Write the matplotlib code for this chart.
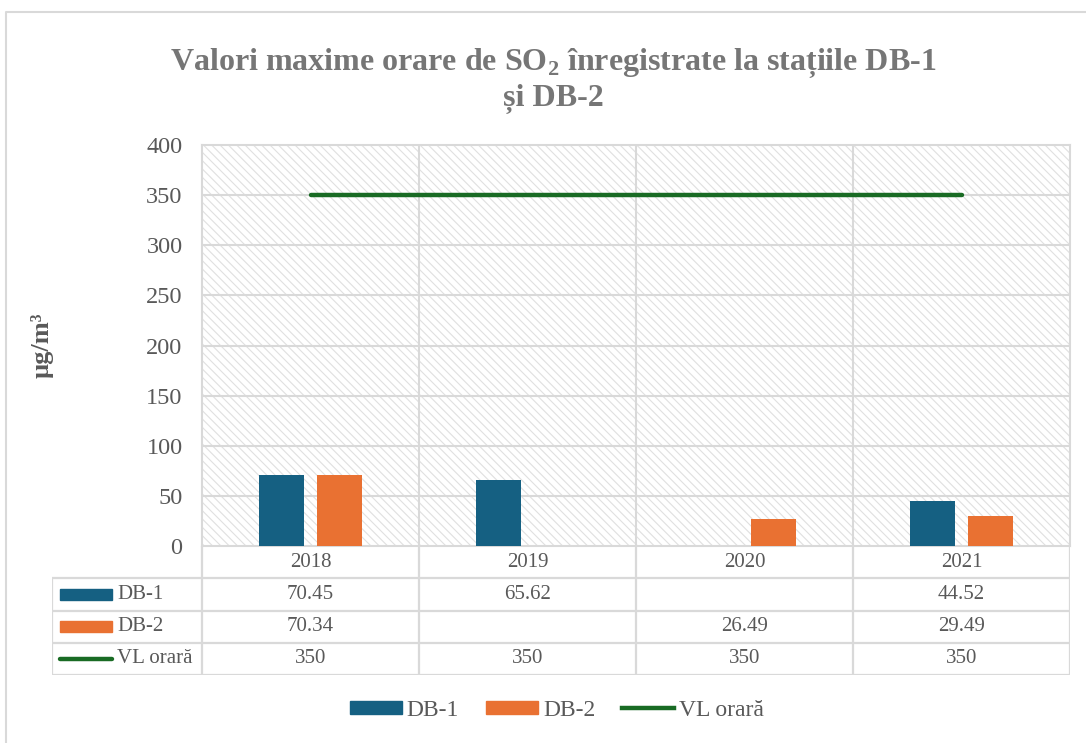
import numpy as np
import matplotlib
matplotlib.use("Agg")
import matplotlib.pyplot as plt
from matplotlib.patches import Rectangle, Patch
from matplotlib.lines import Line2D

# ---- data ----
years = ["2018", "2019", "2020", "2021"]
db1 = [70.45, 65.62, np.nan, 44.52]
db2 = [70.34, np.nan, 26.49, 29.49]
vl = [350, 350, 350, 350]
series_names = ["DB-1", "DB-2", "VL orară"]
yticks = [0, 50, 100, 150, 200, 250, 300, 350, 400]

C1 = "#156082"
C2 = "#E97132"
CG = "#196B24"
GRID = "#d9d9d9"
TXT = "#595959"

plt.rcParams["font.family"] = ["Liberation Serif", "DejaVu Serif"]
plt.rcParams["mathtext.fontset"] = "custom"
plt.rcParams["mathtext.rm"] = "Liberation Serif:bold"
plt.rcParams["mathtext.bf"] = "Liberation Serif:bold"
plt.rcParams["hatch.color"] = "#e0e0e0"
plt.rcParams["hatch.linewidth"] = 0.8

W, H = 1086, 743
fig = plt.figure(figsize=(W / 100, H / 100), dpi=100)
fig.patch.set_facecolor("white")

# overlay for outer border
ov = fig.add_axes([0, 0, 1, 1], zorder=-5)
ov.set_xlim(0, W)
ov.set_ylim(H, 0)
ov.axis("off")
ov.plot([6, 6, W + 5], [H + 5, 12, 12], color=GRID, lw=1.5)

# main axes
L, R, T, B = 202, 1070, 145, 546
ax = fig.add_axes([L / W, 1 - B / H, (R - L) / W, (B - T) / H])
x = np.arange(len(years))
ax.set_xlim(-0.5, len(years) - 0.5)
ax.set_ylim(0, 400)
ax.add_patch(Rectangle((0, 0), 1, 1, transform=ax.transAxes, facecolor="white",
                       hatch="\\\\\\\\", edgecolor="#e0e0e0", lw=0, zorder=0))
bw = 0.21
off = 0.134
ax.bar(x - off, db1, bw, color=C1, zorder=3)
ax.bar(x + off, db2, bw, color=C2, zorder=3)
ax.plot(x, vl, color=CG, lw=3.2, solid_capstyle="round", zorder=4)
ax.set_yticks(yticks)
ax.set_yticklabels([str(v) for v in yticks], fontsize=17.5, color=TXT)
ax.tick_params(axis="y", length=0, pad=14)
ax.set_xticks([])
for yv in yticks[1:-1]:
    ax.axhline(yv, color=GRID, lw=1.5, zorder=1)
for xv in x[:-1] + 0.5:
    ax.axvline(xv, color=GRID, lw=1.5, zorder=1)
for s in ax.spines.values():
    s.set_color(GRID)
    s.set_linewidth(1.5)
ax.set_ylabel("µg/m³", fontsize=19, fontweight="bold", color=TXT, labelpad=0)
ax.yaxis.set_label_coords(-(L - 42) / (R - L), (B - 345) / (B - T))
ax.yaxis.label.set_va("center")

# title
fig.text(553 / W, 1 - 80 / H,
         "Valori maxime orare de SO$_2$ înregistrate la stațiile DB-1\nși DB-2",
         ha="center", va="center", fontsize=23, fontweight="bold",
         color="#767676", linespacing=1.15)

# data table
TL = 52
ppu = (R - L) / len(years)
tx0 = -0.5 - (L - TL) / ppu
at = fig.add_axes([TL / W, 1 - 675 / H, (R - TL) / W, (675 - B) / H])
at.set_xlim(tx0, len(years) - 0.5)
at.set_ylim(4, 0)
at.axis("off")
lk = dict(color=GRID, lw=1.6, solid_capstyle="butt")
for xv in np.arange(len(years) + 1) - 0.5:
    at.plot([xv, xv], [0, 4], **lk)
at.plot([tx0, tx0], [1, 4], **lk)
for yv in [1, 2, 3, 4]:
    at.plot([tx0, len(years) - 0.5], [yv, yv], **lk)
for i, yr in enumerate(years):
    at.text(i, 0.5, yr, ha="center", va="center", fontsize=15, color=TXT)
rows = [db1, db2, vl]
for r, vals in enumerate(rows):
    for i, v in enumerate(vals):
        if not np.isnan(v):
            at.text(i, r + 1.5, f"{v:g}", ha="center", va="center", fontsize=15, color=TXT)
# row header keys
kx0 = tx0 + 8 / ppu
kw = 52 / ppu
at.add_patch(Rectangle((kx0, 1.5 - 0.16), kw, 0.32, color=C1))
at.add_patch(Rectangle((kx0, 2.5 - 0.16), kw, 0.32, color=C2))
at.plot([kx0, kx0 + kw], [3.5, 3.5], color=CG, lw=3.2, solid_capstyle="round")
for r, nm in enumerate(series_names):
    at.text(kx0 + kw + 5 / ppu, r + 1.5, nm, ha="left", va="center", fontsize=15, color=TXT)

# bottom legend
handles = [Patch(color=C1), Patch(color=C2), Line2D([], [], color=CG, lw=3.2)]
fig.legend(handles, series_names, loc="center", bbox_to_anchor=(557 / W, 1 - 710 / H),
           ncol=3, frameon=False, fontsize=17, handlelength=2.2, handleheight=0.47,
           handletextpad=0.2, columnspacing=1.15, labelcolor=TXT,
           borderpad=0, borderaxespad=0)

fig.savefig("out.png", dpi=100)
